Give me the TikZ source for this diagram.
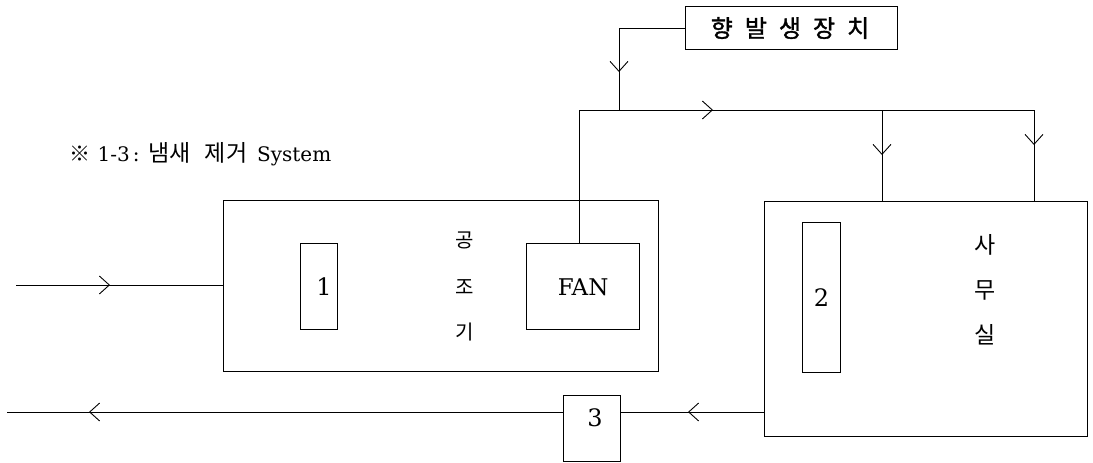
\documentclass[tikz,border=0pt]{standalone}
\usepackage{fontspec}
\setmainfont{DejaVu Serif}
\newfontfamily\kr{Noto Sans CJK KR}
\newfontfamily\krb{Noto Sans CJK KR}[FakeBold=1.5]
\usetikzlibrary{arrows.meta,decorations.markings}
\begin{document}
\begin{tikzpicture}[x=1pt,y=-1pt,
  line width=1.2pt,
  box/.style={draw,inner sep=0pt,anchor=north west},
  flow/.style={draw,line width=1pt},
  chev/.style={postaction={decorate,decoration={markings,
     mark=at position #1 with {\arrow[line width=0.9pt]{Straight Barb[length=10pt,width=18pt]}}}}},
  lbl/.style={inner sep=0pt},
  num/.style={inner sep=0pt,font=\fontsize{24}{24}\selectfont},
  ahutxt/.style={inner sep=0pt,font=\kr\fontsize{20}{20}\selectfont},
  offtxt/.style={inner sep=0pt,font=\kr\fontsize{23}{23}\selectfont}]
\useasboundingbox (0,0) rectangle (1093,463);
% boxes
\node[box,minimum width=212pt,minimum height=43pt] (inc) at (685,6) {};
\node[lbl,font=\krb\fontsize{24}{24}\selectfont] (inctxt) at (790,28) {향\hspace{12pt}발\hspace{12pt}생\hspace{12pt}장\hspace{12pt}치};
\node[box,minimum width=435pt,minimum height=171pt] (ahu) at (223,200) {};
\node[box,minimum width=37pt,minimum height=86pt] (b1) at (300,243) {};
\node[num] (n1) at ([xshift=5pt]b1.center) {1};
\node[box,minimum width=113pt,minimum height=86pt] (fan) at (526,243) {};
\node[lbl,font=\fontsize{23}{23}\selectfont] (fantxt) at ([yshift=-1pt]fan.center) {FAN};
\node[box,minimum width=323pt,minimum height=235pt] (off) at (764,201) {};
\node[box,minimum width=38pt,minimum height=150pt] (b2) at (802,222) {};
\node[num] (n2) at (b2.center) {2};
\node[box,minimum width=57pt,minimum height=66pt] (b3) at (563,395) {};
\node[num] (n3) at ([xshift=3pt,yshift=11pt]b3.center) {3};
% vertical labels
\node[ahutxt] (k1) at (465,240) {공};
\node[ahutxt] (k2) at (465,287) {조};
\node[ahutxt] (k3) at (465,332) {기};
\node[offtxt] (s1) at (985,245) {사};
\node[offtxt] (s2) at (985,290) {무};
\node[offtxt] (s3) at (985,335) {실};
% title
\node[lbl,anchor=west] (title) at (69,154) {\fontsize{20}{20}\selectfont{\kr\fontsize{21}{21}\selectfont ※}\hspace{7pt}1-3\hspace{3pt}:\hspace{9pt}{\kr\fontsize{23}{23}\selectfont 냄새\hspace{14pt}제거}\hspace{10pt}System};
% coordinates
\coordinate (in) at (16,285);
\coordinate (out) at (7,412);
\coordinate (j1) at (619,110);
\coordinate (j2) at (882,110);
% connectors
\draw[flow,chev=94pt] (in) -- (in -| ahu.west);
\draw[flow,chev=110pt] (inc.west |- 0,28) -| (j1);
\draw[flow,chev=267pt,chev=623pt] (fan.north -| 579,0) |- (1034,110) -- (1034,201);
\draw[flow,chev=45pt] (j2) -- (j2 |- off.north);
\draw[flow,chev=76pt] (off.west |- 0,412) -- (b3.east |- 0,412);
\draw[flow,chev=474pt] (b3.west |- 0,412) -- (out);
\end{tikzpicture}
\end{document}
